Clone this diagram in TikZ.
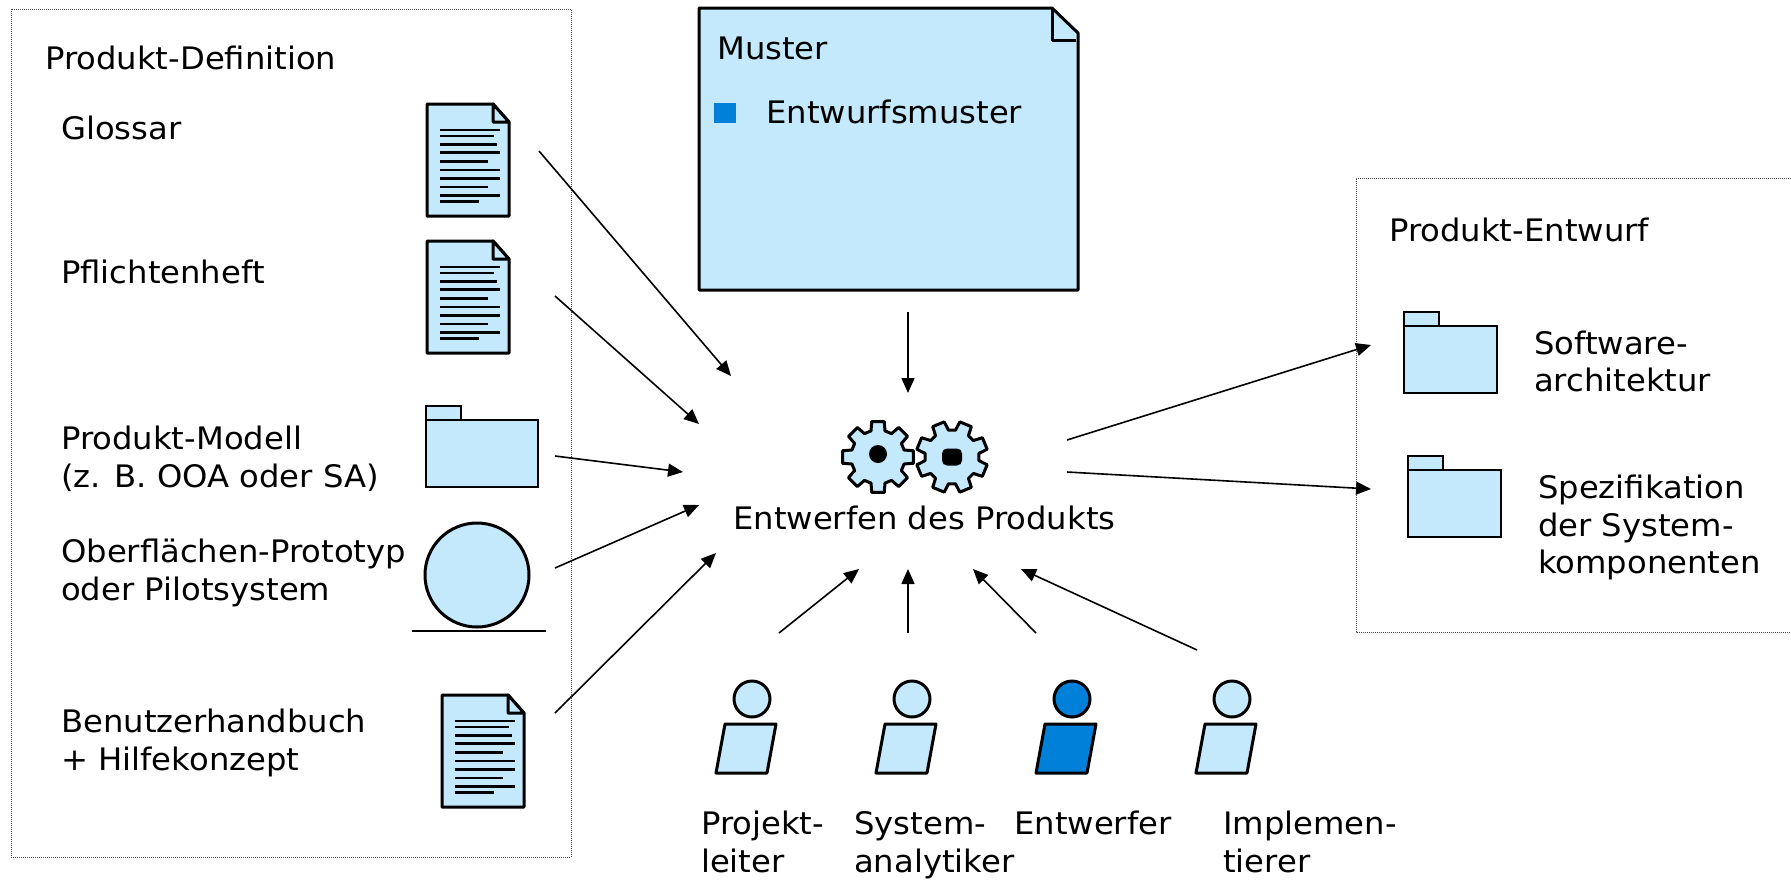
\documentclass[tikz,border=0pt]{standalone}
\usepackage{fontspec}
\setmainfont[FakeStretch=1.04]{DejaVu Sans}
\usetikzlibrary{arrows.meta}
\definecolor{lightb}{HTML}{C4E9FC}
\definecolor{darkb}{HTML}{0080D8}
\tikzset{
  lbl/.style={anchor=base west,inner sep=0pt,font=\fontsize{31}{36}\selectfont},
  shapeline/.style={draw=black,line width=3pt,fill=lightb,line join=round},
  thinshape/.style={draw=black,line width=2pt,fill=lightb},
  frame/.style={draw=black!70,line width=1pt,densely dotted},
  conn/.style={-{Triangle[length=15pt,width=13pt]},line width=1.6pt,black},
  doc/.pic={
    \draw[shapeline] (0,0) -- (66,0) -- (82,18) -- (82,112) -- (0,112) -- cycle;
    \draw[shapeline] (66,0) -- (66,18) -- (82,18) -- cycle;
    \foreach \y/\e in {26/72.5,32/66.5,40.3/70,48.7/72.5,57.3/60.5,66/72.5,74.3/72.5,83/60.5,91.7/72.5,97.3/52}
      \draw[line width=2.6pt] (13,\y) -- (\e,\y);
  },
  person/.pic={
    \draw[shapeline,fill=#1] (0,-25) circle (18);
    \draw[shapeline,fill=#1] (-27,0) -- (24,0) -- (15,49) -- (-36,49) -- cycle;
  },
  folder/.pic={
    \draw[thinshape] (0,0) rectangle (35,14);
    \draw[thinshape] (0,14) rectangle (#1,81);
  }
}
\newcommand{\gearteeth}[1]{%
  (#1-15:27) \foreach \a in {0,45,...,315} { -- ({\a+#1-15}:27) -- ({\a+#1-10}:36) -- ({\a+#1+10}:36) -- ({\a+#1+15}:27) }
}
\begin{document}
\begin{tikzpicture}[x=1pt,y=-1pt]
\useasboundingbox (0,0) rectangle (1791,879);
% frames
\draw[frame] (11,9) rectangle (571,857);
\draw[frame] (1791,178) -- (1356,178) -- (1356,632) -- (1791,632);
% note
\draw[shapeline] (699,8) -- (1052,8) -- (1078,33) -- (1078,290) -- (699,290) -- cycle;
\draw[shapeline,fill=none] (1052,8) -- (1052,40) -- (1076,40);
\fill[darkb] (714,103) rectangle (736,123);
\node[lbl] (muster) at (717,59) {Muster};
\node[lbl] (entwurf) at (766,123) {Entwurfsmuster};
% left content
\node[lbl] (pd) at (45,69) {Produkt-Definition};
\node[lbl] (gl) at (61,139) {Glossar};
\node[lbl] (pf) at (61,283) {Pflichtenheft};
\node[lbl] (pm1) at (61,449) {Produkt-Modell};
\node[lbl] (pm2) at (61,487) {(z. B. OOA oder SA)};
\node[lbl] (op1) at (61,562) {Oberflächen-Prototyp};
\node[lbl] (op2) at (61,600) {oder Pilotsystem};
\node[lbl] (bh1) at (61,732) {Benutzerhandbuch};
\node[lbl] (bh2) at (61,770) {+ Hilfekonzept};
\pic at (427,104) {doc};
\pic at (427,241) {doc};
\pic at (442,695) {doc};
\pic at (426,406) {folder=112};
\draw[shapeline] (477,575) circle (52);
\draw[line width=2.4pt] (412,631) -- (546,631);
% gears
\begin{scope}[shift={(878,457)}]
\draw[shapeline] \gearteeth{0} -- cycle;
\fill (0,-3) circle (9);
\end{scope}
\begin{scope}[shift={(952,457)}]
\draw[shapeline] \gearteeth{22.5} -- cycle;
\fill[rounded corners=5pt] (-10,-8.5) rectangle (10,8.5);
\end{scope}
\node[lbl] (ep) at (733,529) {Entwerfen des Produkts};
% right
\node[lbl] (pe) at (1389,241) {Produkt-Entwurf};
\pic at (1404,312) {folder=93};
\pic at (1408,456) {folder=93};
\node[lbl] (sw1) at (1534,354) {Software-};
\node[lbl] (sw2) at (1534,391) {architektur};
\node[lbl] (sp1) at (1538,498) {Spezifikation};
\node[lbl] (sp2) at (1538,536) {der System-};
\node[lbl] (sp3) at (1538,573) {komponenten};
% persons
\pic at (752,724) {person=lightb};
\pic at (912,724) {person=lightb};
\pic at (1072,724) {person=darkb};
\pic at (1232,724) {person=lightb};
\node[lbl] (r1a) at (701,834) {Projekt-};
\node[lbl] (r1b) at (701,872) {leiter};
\node[lbl] (r2a) at (854,834) {System-};
\node[lbl] (r2b) at (854,872) {analytiker};
\node[lbl] (r3) at (1014,834) {Entwerfer};
\node[lbl] (r4a) at (1223,834) {Implemen-};
\node[lbl] (r4b) at (1223,872) {tierer};
% connector ends
\coordinate (a1s) at (539,151); \coordinate (a1e) at (731,376);
\coordinate (a2s) at (555,296); \coordinate (a2e) at (699,424);
\coordinate (a3s) at (555,456); \coordinate (a3e) at (683,472);
\coordinate (a4s) at (555,568); \coordinate (a4e) at (699,505);
\coordinate (a5s) at (555,713); \coordinate (a5e) at (716,553);
\coordinate (a6s) at (908,312); \coordinate (a6e) at (908,393);
\coordinate (a7s) at (1067,440); \coordinate (a7e) at (1371,345);
\coordinate (a8s) at (1067,472); \coordinate (a8e) at (1371,489);
\coordinate (a9s) at (779,633); \coordinate (a9e) at (859,569);
\coordinate (a10s) at (908,633); \coordinate (a10e) at (908,569);
\coordinate (a11s) at (1036,633); \coordinate (a11e) at (973,569);
\coordinate (a12s) at (1197,650); \coordinate (a12e) at (1021,569);
\foreach \i in {1,...,12} \draw[conn] (a\i s) -- (a\i e);
\end{tikzpicture}
\end{document}
